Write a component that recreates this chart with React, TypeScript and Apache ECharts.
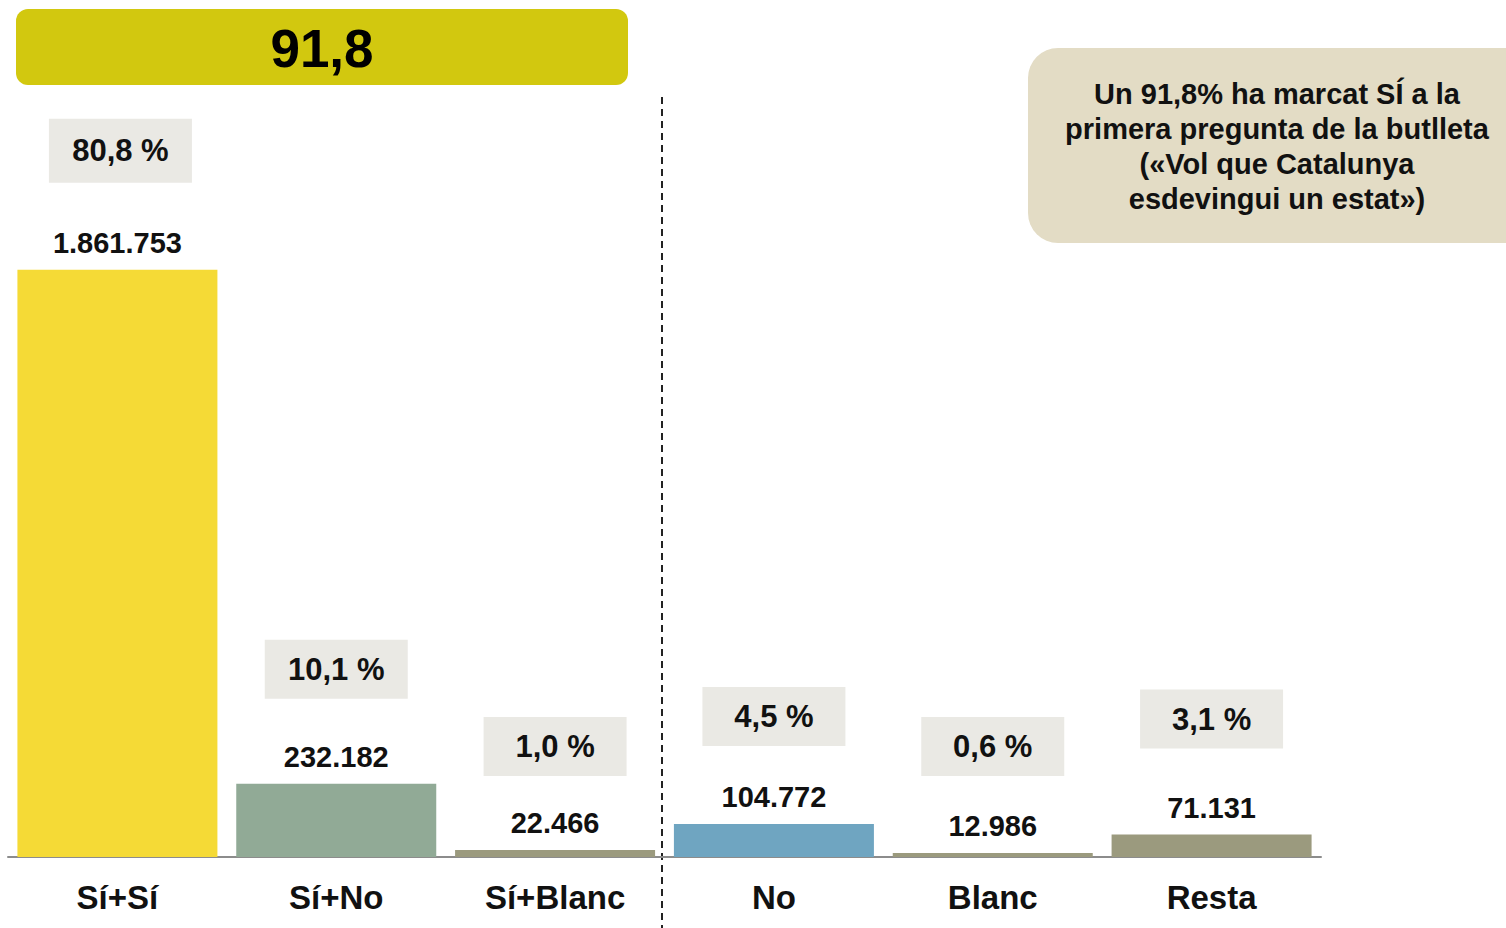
import React, { useEffect, useRef } from "react";
import * as echarts from "echarts";

const categories = ["Sí+Sí", "Sí+No", "Sí+Blanc", "No", "Blanc", "Resta"];
const votes = [1861753, 232182, 22466, 104772, 12986, 71131];
const percents = [80.8, 10.1, 1.0, 4.5, 0.6, 3.1];
const bannerValue = "91,8";
const noteLines = [
  "Un 91,8% ha marcat SÍ a la",
  "primera pregunta de la butlleta",
  "(«Vol que Catalunya",
  "esdevingui un estat»)",
];

const barColors = ["#f5da36", "#91aa96", "#9b9a7e", "#6fa5c1", "#9b9a7e", "#9b9a7e"];
const pctBoxGap = [87, 85, 74, 78, 77, 86];
const pctBoxHeight = [64, 59, 59, 59, 59, 59];
const pctBoxShift = [3, 0, 0, 0, 0, 0];
const FONT = "'Liberation Sans', Arial, sans-serif";

const fmtVotes = (v: number) => String(v).replace(/\B(?=(\d{3})+(?!\d))/g, ".");
const fmtPct = (p: number) => p.toFixed(1).replace(".", ",") + " %";

export default function App() {
  const ref = useRef<HTMLDivElement>(null);
  useEffect(() => {
    if (!ref.current) return;
    const chart = echarts.init(ref.current, undefined, { renderer: "svg" });
    chart.setOption({
      animation: false,
      backgroundColor: "#ffffff",
      grid: { left: 8, right: 185, top: 100, bottom: 71, containLabel: false },
      xAxis: {
        type: "category",
        data: categories,
        axisLine: { show: true, lineStyle: { color: "#8c8c8c", width: 2 } },
        axisTick: { show: false },
        axisLabel: {
          color: "#111",
          fontFamily: FONT,
          fontWeight: "bold",
          fontSize: 33,
          margin: 24,
        },
      },
      yAxis: { type: "value", min: 0, max: 2400000, show: false, splitLine: { show: false } },
      series: [
        {
          type: "bar",
          barWidth: 200,
          z: 3,
          data: votes.map((v, i) => ({ value: v, itemStyle: { color: barColors[i] } })),
          label: {
            show: true,
            position: "top",
            distance: 12,
            color: "#111",
            fontFamily: FONT,
            fontWeight: "bold",
            fontSize: 29,
            formatter: (p: any) => fmtVotes(p.value),
          },
        },
        {
          type: "bar",
          barWidth: 200,
          barGap: "-100%",
          z: 2,
          data: votes.map((v, i) => ({
            value: v,
            itemStyle: { color: "rgba(0,0,0,0)" },
            label: {
              distance: pctBoxGap[i],
              lineHeight: pctBoxHeight[i],
              offset: [pctBoxShift[i], 0],
            },
          })),
          label: {
            show: true,
            position: "top",
            color: "#111",
            fontFamily: FONT,
            fontWeight: "bold",
            fontSize: 31,
            width: 143,
            lineHeight: 59,
            align: "center",
            backgroundColor: "#eae9e4",
            formatter: (p: any) => fmtPct(percents[p.dataIndex]),
          },
        },
      ],
      graphic: [
        {
          type: "rect",
          shape: { x: 16, y: 9, width: 612, height: 76, r: 12 },
          style: { fill: "#d2c80f" },
        },
        {
          type: "text",
          x: 322,
          y: 48,
          style: {
            text: bannerValue,
            fill: "#000",
            font: `bold 53px ${FONT}`,
            textAlign: "center",
            textVerticalAlign: "middle",
          },
        },
        {
          type: "line",
          shape: { x1: 662, y1: 97, x2: 662, y2: 928 },
          style: { stroke: "#222", lineWidth: 2, lineDash: [7, 5] },
        },
        {
          type: "rect",
          shape: { x: 1028, y: 48, width: 520, height: 195, r: 30 },
          style: { fill: "#e3dcc5" },
        },
        {
          type: "text",
          x: 1277,
          y: 146.5,
          style: {
            text: noteLines.join("\n"),
            fill: "#111",
            font: `bold 29px ${FONT}`,
            lineHeight: 35,
            textAlign: "center",
            textVerticalAlign: "middle",
          },
        },
      ],
    });
    return () => chart.dispose();
  }, []);
  return (
    <div
      ref={ref}
      style={{ position: "fixed", left: 0, top: 0, width: 1506, height: 928, background: "#fff" }}
    />
  );
}
